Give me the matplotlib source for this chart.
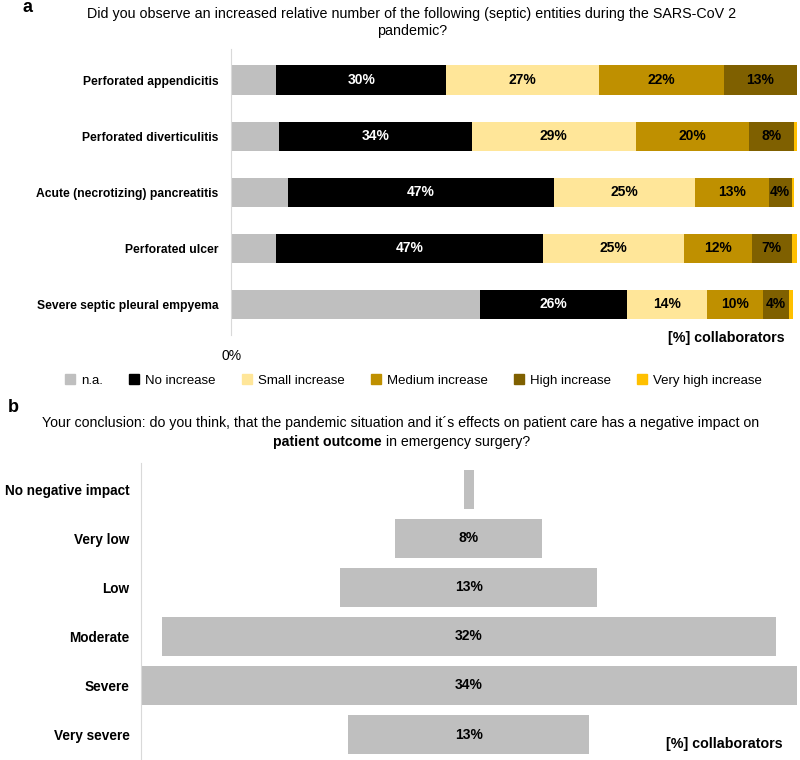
import matplotlib.pyplot as plt
from matplotlib.lines import Line2D

plt.rcParams["font.family"] = ["Liberation Sans", "DejaVu Sans"]

# panel a data (% of collaborators)
entities = [
    "Perforated appendicitis",
    "Perforated diverticulitis",
    "Acute (necrotizing) pancreatitis",
    "Perforated ulcer",
    "Severe septic pleural empyema",
]
series_names = ["n.a.", "No increase", "Small increase", "Medium increase",
                "High increase", "Very high increase"]
na = [8, 8.5, 10, 8, 44]
no_increase = [30, 34, 47, 47, 26]
small_increase = [27, 29, 25, 25, 14]
medium_increase = [22, 20, 13, 12, 10]
high_increase = [13, 8, 4, 7, 4.5]
very_high_increase = [1.2, 0.9, 0.5, 1.2, 0.7]
series_colors = ["#BFBFBF", "#000000", "#FFE699", "#BF9000", "#7F6000", "#FFC000"]
labelled = [False, True, True, True, True, False]

# panel b data
impact = ["No negative impact", "Very low", "Low", "Moderate", "Severe", "Very severe"]
impact_pct = [0.5, 7.6, 13.3, 31.8, 34, 12.5]
impact_labels = ["", "8%", "13%", "32%", "34%", "13%"]

fig = plt.figure(figsize=(8, 7.6), dpi=100)

# ---------- panel a ----------
ax = fig.add_axes([0.289, 0.559, 0.7075, 0.3763])
series = [na, no_increase, small_increase, medium_increase, high_increase,
          very_high_increase]
left = [0.0] * len(entities)
for name, vals, col, lab in zip(series_names, series, series_colors, labelled):
    bars = ax.barh(range(len(entities)), vals, left=left, height=0.52,
                   color=col, label=name)
    if lab:
        txt_col = "white" if col == "#000000" else "black"
        ax.bar_label(bars, labels=[f"{round(v)}%" for v in vals],
                     label_type="center", color=txt_col, fontweight="bold",
                     fontsize=10)
    left = [l + v for l, v in zip(left, vals)]

ax.set_xlim(0, 100)
ax.set_ylim(4.55, -0.55)
ax.set_yticks(range(len(entities)))
ax.set_yticklabels(entities, fontweight="bold", fontsize=8.7)
ax.set_xticks([0])
ax.set_xticklabels(["0%"], fontsize=10)
ax.tick_params(axis="both", length=0)
ax.tick_params(axis="y", pad=9)
ax.tick_params(axis="x", pad=10)
for s in ["top", "right", "bottom"]:
    ax.spines[s].set_visible(False)
ax.spines["left"].set_color("#D9D9D9")

fig.text(0.028, 0.99, "a", fontsize=13, fontweight="bold", va="center")
fig.text(0.515, 0.991,
         "Did you observe an increased relative number of the following (septic) "
         "entities during the SARS-CoV 2\npandemic?",
         ha="center", va="top", fontsize=10.3, linespacing=1.3)
fig.text(0.981, 1 - 338 / 760, "[%] collaborators", ha="right", va="center",
         fontsize=10.3, fontweight="bold")

handles = [Line2D([], [], marker="s", linestyle="none", markersize=7,
                  color=c) for c in series_colors]
fig.legend(handles, series_names, loc="center", ncol=6,
           bbox_to_anchor=(0.516, 1 - 381 / 760), frameon=False,
           fontsize=9.5, handletextpad=0.3, columnspacing=1.9,
           handlelength=1.0)

# ---------- panel b ----------
bx = fig.add_axes([0.176, 0.0, 0.82, 0.391])
pos = range(len(impact))
bx.barh(pos, impact_pct, left=[-v / 2 for v in impact_pct], height=0.8,
        color="#BFBFBF")
for p, lab in zip(pos, impact_labels):
    if lab:
        bx.text(0, p, lab, ha="center", va="center", fontweight="bold",
                fontsize=10)
bx.set_xlim(-17, 17)
bx.set_ylim(5.52, -0.54)
bx.set_xticks([])
bx.set_yticks(list(pos))
bx.set_yticklabels(impact, fontweight="bold", fontsize=9.8)
bx.tick_params(axis="y", length=0, pad=8)
for s in ["top", "right", "bottom"]:
    bx.spines[s].set_visible(False)
bx.spines["left"].set_color("#D9D9D9")

fig.text(0.01, 1 - 407 / 760, "b", fontsize=13, fontweight="bold", va="center")
fig.text(401 / 800, 1 - 423 / 760,
         "Your conclusion: do you think, that the pandemic situation and it´s "
         "effects on patient care has a negative impact on",
         ha="center", va="center", fontsize=10.2)
t1 = fig.text(273 / 800, 1 - 442 / 760, "patient outcome", ha="left",
              va="center", fontsize=10.2, fontweight="bold")
bx.annotate(" in emergency surgery?", xy=(1, 0), xycoords=t1, va="bottom",
            fontsize=10.2, annotation_clip=False)
fig.text(0.978, 1 - 744 / 760, "[%] collaborators", ha="right", va="center",
         fontsize=10.3, fontweight="bold")

fig.savefig("out.png", dpi=100)
